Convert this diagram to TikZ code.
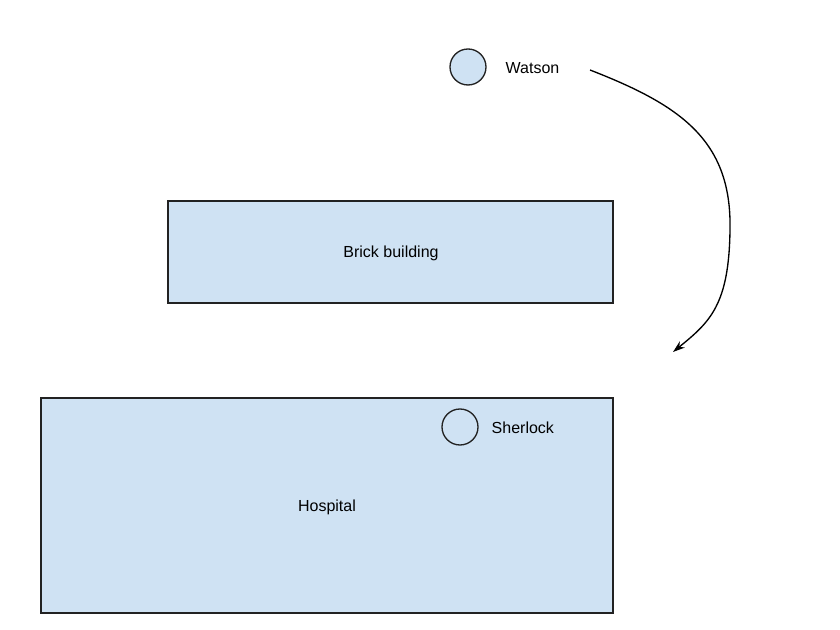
\documentclass[tikz,border=0pt]{standalone}
\usepackage{fontspec}
\setmainfont{Liberation Sans}
\usetikzlibrary{arrows.meta}
\definecolor{boxfill}{HTML}{CFE2F3}
\definecolor{boxline}{HTML}{222222}
\begin{document}
\begin{tikzpicture}[x=0.75pt,y=-0.75pt,
  area/.style={draw=boxline,line width=1pt,fill=boxfill},
  person/.style={circle,draw=boxline,line width=1pt,fill=boxfill,minimum size=27pt,inner sep=0pt},
  lbl/.style={font=\fontsize{12}{14}\selectfont,text=black}]
\useasboundingbox[fill=white] (0,0) rectangle (840,630);
\draw[area] (168,201) rectangle (613,303);
\node[lbl] (brick) at (391,253) {Brick building};
\draw[area] (41,398) rectangle (613,613);
\node[lbl] (hosp) at (327,507) {Hospital};
\node[person] (watson) at (468,67) {};
\node[lbl,anchor=west] (watsonl) at (501,68) {Watson};
\node[person] (sherlock) at (460,427) {};
\node[lbl,anchor=west] (sherlockl) at (487,428) {Sherlock};
\coordinate (a0) at (590,70);
\coordinate (a1) at (730,230);
\coordinate (a2) at (673,352);
\draw[line width=1pt,-{Stealth[length=9pt,width=6pt]}] (a0) .. controls (680,105) and (732,140) .. (a1)
  .. controls (729,305) and (710,322) .. (a2);
\end{tikzpicture}
\end{document}
